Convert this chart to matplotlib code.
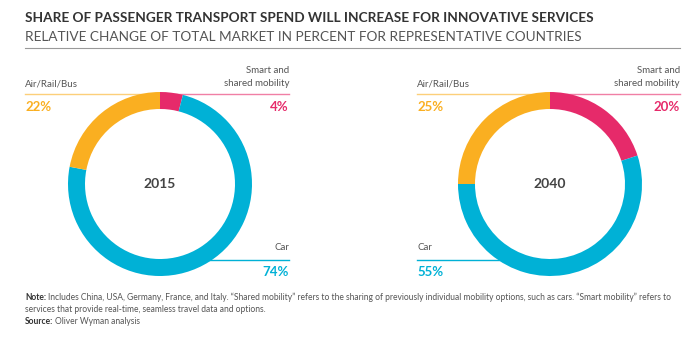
import matplotlib.pyplot as plt

plt.rcParams['font.family'] = ['Lato', 'DejaVu Sans']

years = ['2015', '2040']
segments = ['Smart and\nshared mobility', 'Car', 'Air/Rail/Bus']
share_2015 = [4, 74, 22]
share_2040 = [20, 55, 25]
colors = ['#E62A6A', '#00B1D6', '#FAAF21']
gray = '#555555'

W, H = 696, 344
fig = plt.figure(figsize=(W / 100, H / 100), dpi=100)
ax = fig.add_axes([0, 0, 1, 1])
ax.set_xlim(0, W)
ax.set_ylim(0, H)
ax.set_aspect('equal')
ax.axis('off')

def Y(py):
    return H - py

fig.text(25 / W, 1 - 18 / H, 'SHARE OF PASSENGER TRANSPORT SPEND WILL INCREASE FOR INNOVATIVE SERVICES',
         fontsize=9.8, fontweight='bold', color='#333333', va='center')
fig.text(25 / W, 1 - 37 / H, 'RELATIVE CHANGE OF TOTAL MARKET IN PERCENT FOR REPRESENTATIVE COUNTRIES',
         fontsize=9.8, color='#555555', va='center')
ax.plot([25, 680], [Y(48), Y(48)], color='#999999', lw=0.8)

centers = [160, 550]
for k, vals in enumerate([share_2015, share_2040]):
    cx = centers[k]
    ax.pie(vals, colors=colors, startangle=90, counterclock=False,
           center=(cx, Y(184)), radius=92, frame=True,
           wedgeprops=dict(width=17, edgecolor='none'))
    ax.text(cx, Y(184), years[k], ha='center', va='center', fontsize=10,
            fontweight='bold', color='#444444')

L1, R1 = 25, 289
L2, R2 = 417, 680

# connector lines
ax.plot([L1, centers[0]], [Y(94), Y(94)], color=colors[2], lw=1, alpha=0.6, zorder=0)
ax.plot([centers[0], R1], [Y(94), Y(94)], color=colors[0], lw=1, alpha=0.6, zorder=0)
ax.plot([L2, centers[1]], [Y(94), Y(94)], color=colors[2], lw=1, alpha=0.6, zorder=0)
ax.plot([centers[1], R2], [Y(94), Y(94)], color=colors[0], lw=1, alpha=0.6, zorder=0)
ax.plot([centers[0], R1], [Y(260), Y(260)], color=colors[1], lw=1, zorder=0)
ax.plot([L2, centers[1]], [Y(260), Y(260)], color=colors[1], lw=1, zorder=0)

for k, vals in enumerate([share_2015, share_2040]):
    L, R = [(L1, R1), (L2, R2)][k]
    ax.text(L, Y(84), segments[2], ha='left', va='center', fontsize=7, color=gray)
    ax.text(L, Y(107), f'{vals[2]}%', ha='left', va='center', fontsize=9.5,
            fontweight='bold', color=colors[2])
    ax.text(R, Y(77), segments[0], ha='right', va='center', fontsize=7, color=gray,
            linespacing=1.45)
    ax.text(R, Y(107), f'{vals[0]}%', ha='right', va='center', fontsize=9.5,
            fontweight='bold', color=colors[0])
    if k == 0:
        ax.text(R, Y(248), segments[1], ha='right', va='center', fontsize=7, color=gray)
        ax.text(R, Y(272), f'{vals[1]}%', ha='right', va='center', fontsize=9.5,
                fontweight='bold', color=colors[1])
    else:
        ax.text(L, Y(248), segments[1], ha='left', va='center', fontsize=7, color=gray)
        ax.text(L, Y(272), f'{vals[1]}%', ha='left', va='center', fontsize=9.5,
                fontweight='bold', color=colors[1])

note1 = ('Includes China, USA, Germany, France, and Italy. \u201cShared mobility\u201d refers to the sharing of '
         'previously individual mobility options, such as cars. \u201cSmart mobility\u201d refers to')
note2 = 'services that provide real-time, seamless travel data and options.'
fs = 6.15
t = ax.text(25, Y(297), 'Note:', fontsize=fs, fontweight='bold', color='#333333', va='center')
fig.canvas.draw()
bb = t.get_window_extent()
ax.text(25 + bb.width + 2, Y(297), note1, fontsize=fs, color=gray, va='center')
ax.text(25, Y(309), note2, fontsize=fs, color=gray, va='center')
t2 = ax.text(25, Y(321), 'Source:', fontsize=fs, fontweight='bold', color='#333333', va='center')
bb2 = t2.get_window_extent()
ax.text(25 + bb2.width + 2, Y(321), 'Oliver Wyman analysis', fontsize=fs, color=gray, va='center')

fig.savefig('out.png', dpi=100)
